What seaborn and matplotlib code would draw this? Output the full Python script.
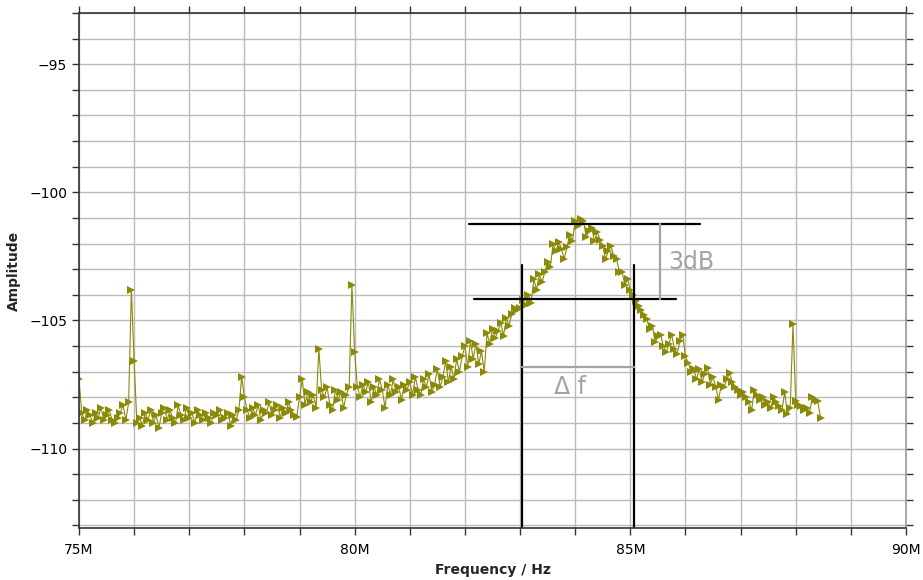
"""
Resonance spectrum with 3 dB bandwidth markers.
"""

import numpy as np
import pandas as pd
import matplotlib
matplotlib.use("Agg")
import matplotlib.pyplot as plt
from matplotlib.ticker import MultipleLocator, FuncFormatter
import seaborn as sns

sns.set_theme(style="white")
plt.rcParams["font.family"] = ["DejaVu Sans"]

TRACE_COLOR = "#8a8a08"
NOTE_GRAY = "#a3a3a3"

# sample grid (MHz)
FREQ_START = 75.0
FREQ_STEP = 0.05

# amplitude readings, one row per MHz (dB)
AMPLITUDE = [
    # 75
    -107.3, -108.6, -108.9, -108.5, -108.7, -109.0, -108.6, -108.8, -108.4, -108.9,
    -108.7, -108.5, -108.9, -109.0, -108.8, -108.6, -108.3, -108.9, -108.2, -103.8,
    # 76
    -106.6, -109.0, -108.8, -109.1, -108.6, -108.9, -108.5, -109.0, -108.7, -109.2,
    -108.6, -108.4, -108.9, -108.5, -108.8, -109.0, -108.3, -108.7, -108.9, -108.4,
    # 77
    -108.8, -108.6, -109.0, -108.5, -108.7, -108.9, -108.6, -108.8, -109.0, -108.6,
    -108.7, -108.5, -108.9, -108.8, -108.6, -109.1, -108.7, -108.9, -108.5, -107.2,
    # 78
    -108.0, -108.5, -108.8, -108.4, -108.7, -108.3, -108.9, -108.5, -108.6, -108.2,
    -108.7, -108.5, -108.3, -108.8, -108.4, -108.6, -108.2, -108.5, -108.7, -108.75,
    # 79
    -108.0, -107.3, -108.3, -107.8, -108.2, -107.9, -108.4, -106.1, -107.7, -108.0,
    -107.6, -108.3, -108.5, -107.7, -108.1, -107.8, -108.4, -107.9, -107.6, -103.6,
    # 80
    -106.25, -107.6, -108.0, -107.5, -107.8, -107.4, -108.2, -107.6, -107.9, -107.3,
    -107.7, -108.4, -107.5, -107.9, -107.3, -107.8, -107.6, -108.1, -107.5, -107.7,
    # 81
    -107.4, -107.9, -107.2, -107.7, -107.9, -107.3, -107.6, -107.1, -107.8, -107.5,
    -106.9, -107.6, -107.2, -106.6, -107.4, -106.8, -107.3, -106.5, -107.0, -106.4,
    # 82
    -106.0, -106.8, -105.8, -106.5, -105.9, -106.7, -106.2, -107.0, -105.5, -105.9,
    -105.35, -105.7, -105.4, -105.1, -105.6, -104.9, -105.2, -104.75, -104.5, -104.6,
    # 83
    -104.5, -104.2, -104.4, -104.0, -104.3, -103.4, -103.8, -103.2, -103.5, -103.1,
    -102.7, -102.9, -102.0, -102.3, -101.95, -102.2, -102.6, -102.15, -101.65, -101.9,
    # 84
    -101.1, -101.3, -101.05, -101.1, -101.75, -101.5, -101.4, -101.9, -101.55, -101.85,
    -102.1, -102.6, -102.3, -102.1, -102.5, -102.6, -103.1, -103.1, -103.6, -103.4,
    # 85
    -103.8, -104.0, -104.25, -104.45, -104.6, -104.8, -104.95, -105.35, -105.2, -105.85,
    -105.6, -105.55, -106.0, -106.25, -105.9, -105.55, -106.1, -106.3, -105.8, -105.55,
    # 86
    -106.4, -106.65, -107.0, -106.9, -107.3, -106.9, -107.4, -107.1, -106.85, -107.5,
    -107.2, -107.6, -108.1, -107.5, -107.6, -107.3, -107.05, -107.4, -107.6, -107.7,
    # 87
    -107.9, -107.8, -108.0, -108.2, -108.5, -107.7, -107.9, -108.1, -108.0, -108.3,
    -108.2, -108.4, -108.0, -108.2, -108.35, -108.5, -107.8, -108.65, -108.4, -105.15,
    # 88
    -108.15, -108.3, -108.35, -108.5, -108.4, -108.6, -108.0, -108.1, -108.15, -108.8,
]

# bandwidth construction (MHz, dB)
PEAK_DB = -101.25
CUT_DB = -104.15
F_LOW = 83.03
F_HIGH = 85.07
PEAK_LINE_SPAN = (82.07, 86.27)
CUT_LINE_SPAN = (82.16, 85.83)
MARKER_TOP_DB = -102.85
DB_BRACKET_F = 85.53
DF_BRACKET_DB = -106.8

X_LIM = (75, 90)
Y_LIM = (-113.1, -93.0)


def plot_spectrum():
    freq = FREQ_START + FREQ_STEP * np.arange(len(AMPLITUDE))
    df = pd.DataFrame({"freq": freq, "amp": AMPLITUDE})

    fig = plt.figure(figsize=(9.23, 5.8), dpi=100)
    ax = fig.add_axes([79 / 923, 52 / 580, 827 / 923, 515 / 580])

    ax.grid(which="both", color="#bababa", linewidth=1.0)
    ax.set_axisbelow(True)

    sns.lineplot(data=df, x="freq", y="amp", ax=ax, color=TRACE_COLOR,
                 linewidth=0.8, marker=">", markersize=5.5, markeredgewidth=0,
                 estimator=None, sort=False)

    # 3 dB bandwidth construction
    ax.plot(PEAK_LINE_SPAN, [PEAK_DB, PEAK_DB], color="black", lw=1.6)
    ax.plot(CUT_LINE_SPAN, [CUT_DB, CUT_DB], color="black", lw=1.6)
    for f in (F_LOW, F_HIGH):
        ax.plot([f, f], [MARKER_TOP_DB, Y_LIM[0]], color="black", lw=1.6)
    ax.plot([DB_BRACKET_F, DB_BRACKET_F], [PEAK_DB, CUT_DB], color=NOTE_GRAY, lw=1.6)
    ax.plot([F_LOW, F_HIGH], [DF_BRACKET_DB, DF_BRACKET_DB], color=NOTE_GRAY, lw=1.6)
    ax.text(DB_BRACKET_F + 0.15, (PEAK_DB + CUT_DB) / 2, "3dB", color=NOTE_GRAY,
            fontsize=17, ha="left", va="center")
    ax.text((F_LOW + F_HIGH) / 2 - 0.15, DF_BRACKET_DB - 0.8, "\u0394 f", color=NOTE_GRAY,
            fontsize=17, ha="center", va="center")

    ax.set_xlim(*X_LIM)
    ax.set_ylim(*Y_LIM)
    ax.xaxis.set_major_locator(MultipleLocator(5))
    ax.xaxis.set_minor_locator(MultipleLocator(1))
    ax.yaxis.set_major_locator(MultipleLocator(5))
    ax.yaxis.set_minor_locator(MultipleLocator(1))
    ax.xaxis.set_major_formatter(FuncFormatter(lambda v, p: f"{v:.0f}M"))

    ax.tick_params(which="both", direction="out", length=5, width=1, color="#333333",
                   top=True, right=True, bottom=True, left=True,
                   labelsize=10, labelcolor="black")
    ax.tick_params(axis="x", pad=6)

    ax.set_xlabel("Frequency / Hz", fontsize=10, fontweight="bold", labelpad=4)
    ax.set_ylabel("Amplitude", fontsize=10, fontweight="bold", labelpad=6)

    for side in ("left", "bottom", "top"):
        ax.spines[side].set_color("#333333")
        ax.spines[side].set_linewidth(1.2)
    ax.spines["right"].set_color("#9a9a9a")
    ax.spines["right"].set_linewidth(1.2)

    fig.savefig("out.png", dpi=100)
    plt.close(fig)


if __name__ == "__main__":
    plot_spectrum()
